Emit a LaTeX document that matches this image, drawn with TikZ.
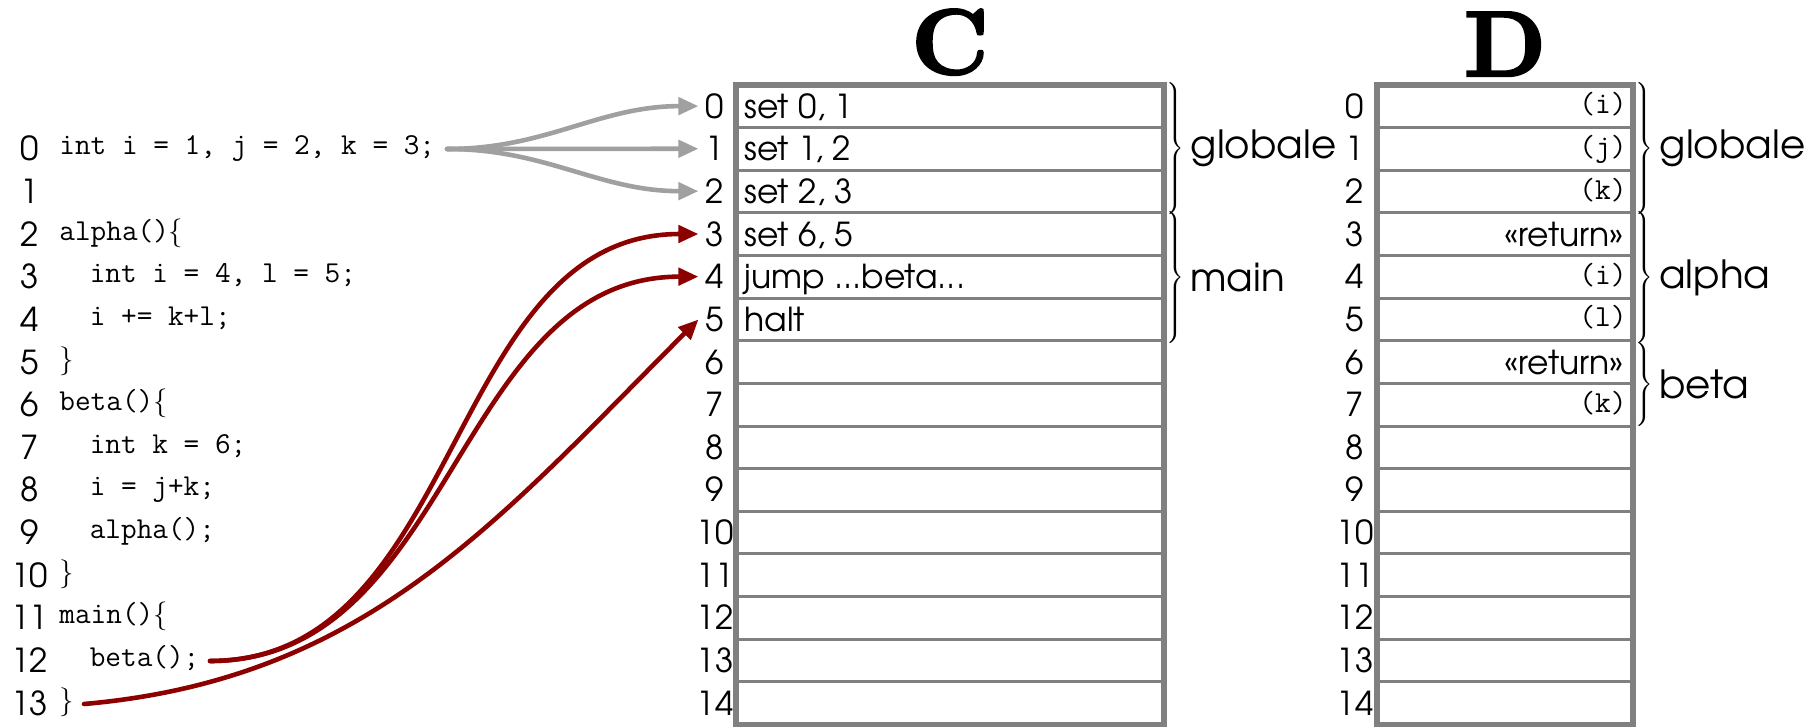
\documentclass[tikz,border=0pt]{standalone}
\usepackage{fontspec}
\usetikzlibrary{arrows.meta,calc}
\IfFontExistsTF{TeX Gyre Adventor}
  {\newfontfamily\gothic{TeX Gyre Adventor}}
  {\newfontfamily\gothic{Poppins}}
\newfontface\titlefont{lmroman10-bold}[Extension=.otf, FakeBold=2.5]
\newcommand\mybrace[1]{{\fontsize{10}{12}\selectfont\delimiterfactor=1000 \delimitershortfall=0pt
  $\left.\vcenter{\hbox{\rule{0pt}{#1}}}\right\}$}}
\definecolor{boxgray}{RGB}{128,128,128}
\definecolor{arrgray}{RGB}{160,160,160}
\definecolor{arrred}{RGB}{140,0,0}
\begin{document}
\begin{tikzpicture}[x=0.5pt,y=0.5pt,
  num/.style={font=\gothic\fontsize{16.5}{18}\selectfont, inner xsep=3.5pt, inner ysep=0pt, anchor=base},
  cell/.style={font=\gothic\fontsize{16.5}{18}\selectfont, inner sep=0pt, anchor=base west},
  dtt/.style={font=\ttfamily\fontsize{15.3}{17}\selectfont, inner sep=0pt, anchor=base east},
  dret/.style={font=\gothic\fontsize{16.5}{18}\selectfont, inner sep=0pt, anchor=base east},
  code/.style={font=\ttfamily\fontsize{15.2}{18}\selectfont, inner sep=0pt, anchor=base west},
  lab/.style={font=\gothic\fontsize{19.4}{22}\selectfont, inner sep=0pt, anchor=west},
  brc/.style={inner sep=0pt, anchor=west},
  title/.style={font=\titlefont\fontsize{46.5}{50}\selectfont, inner sep=0pt, anchor=base},
  outer/.style={draw=boxgray, line width=2.6pt},
  inner/.style={draw=boxgray, line width=1.5pt},
  garrow/.style={draw=arrgray, line width=2.3pt, line cap=round, -{Triangle[length=10pt,width=8.5pt]}},
  rarrow/.style={draw=arrred, line width=2.3pt, line cap=round, -{Triangle[length=10pt,width=8.5pt]}}
]
\useasboundingbox (0,0) rectangle (1816,-728);
\def\rh{42.63}
% ---------- boxes ----------
\foreach \k in {1,...,14}{
  \pgfmathsetmacro\yy{85+\rh*\k}
  \draw[inner] (736,-\yy) -- (1164,-\yy);
  \draw[inner] (1377,-\yy) -- (1633,-\yy);
}
\draw[outer] (736,-85) rectangle (1164,-724.5);
\draw[outer] (1377,-85) rectangle (1633,-724.5);
% ---------- titles ----------
\node[title] (ctitle) at (950,-74) {C};
\node[title] (dtitle) at (1505,-76) {D};
% ---------- row numbers ----------
\foreach \k in {0,...,14}{
  \pgfmathsetmacro\yc{85+\rh*(\k+0.5)}
  \node[num] (cn\k) at (715,{-\yc-12}) {\k};
  \node[num] (dn\k) at (1355,{-\yc-12}) {\k};
}
% ---------- C cells ----------
\foreach \k/\t in {0/{set 0, 1},1/{set 1, 2},2/{set 2, 3},3/{set 6, 5},4/{jump ...beta...},5/{halt}}{
  \pgfmathsetmacro\yc{85+\rh*(\k+0.5)}
  \node[cell] (cc\k) at (744,{-\yc-12}) {\t};
}
% ---------- D cells ----------
\foreach \k/\t in {0/(i),1/(j),2/(k),4/(i),5/(l),7/(k)}{
  \pgfmathsetmacro\yc{85+\rh*(\k+0.5)}
  \node[dtt] (dc\k) at (1627,{-\yc-7.5}) {\t};
}
\foreach \k in {3,6}{
  \pgfmathsetmacro\yc{85+\rh*(\k+0.5)}
  \node[dret] (dc\k) at (1624,{-\yc-12}) {«return»};
}
% ---------- braces & labels ----------
\node[brc] (cb1) at (1164,-148.5) {\mybrace{64.5pt}};
\node[lab] (cl1) at (1190,-148.5) {globale};
\node[brc] (cb2) at (1164,-277.5) {\mybrace{64pt}};
\node[lab] (cl2) at (1190,-277.5) {main};
\node[brc] (db1) at (1633,-148.5) {\mybrace{64.5pt}};
\node[lab] (dl1) at (1659,-148.5) {globale};
\node[brc] (db2) at (1633,-277.5) {\mybrace{64pt}};
\node[lab] (dl2) at (1659,-277.5) {alpha};
\node[brc] (db3) at (1633,-384.5) {\mybrace{42pt}};
\node[lab] (dl3) at (1659,-384.5) {beta};
% ---------- code ----------
\foreach \k in {0,...,13}{
  \pgfmathsetmacro\yc{85+\rh*(\k+1.5)}
  \node[num] (ln\k) at (30,{-\yc-12}) {\k};
}
\def\cy#1{{-(85+\rh*(#1+1.5))-6}}
\node[code] (code0) at (59,\cy{0}) {int i = 1, j = 2, k = 3;};
\node[code] (code2) at (59,\cy{2}) {alpha()$\{$};
\node[code] (code3) at (59,\cy{3}) {\quad int i = 4, l = 5;};
\node[code] (code4) at (59,\cy{4}) {\quad i += k+l;};
\node[code] (code5) at (59,\cy{5}) {$\}$};
\node[code] (code6) at (59,\cy{6}) {beta()$\{$};
\node[code] (code7) at (59,\cy{7}) {\quad int k = 6;};
\node[code] (code8) at (59,\cy{8}) {\quad i = j+k;};
\node[code] (code9) at (59,\cy{9}) {\quad alpha();};
\node[code] (code10) at (59,\cy{10}) {$\}$};
\node[code] (code11) at (59,\cy{11}) {main()$\{$};
\node[code] (code12) at (59,\cy{12}) {\quad beta();};
\node[code] (code13) at (59,\cy{13}) {$\}$};
% ---------- arrows ----------
\coordinate (gs) at (447,-149);
\coordinate (rs1) at (210,-661);
\coordinate (rs2) at (84,-704);
\draw[garrow] (gs) to[out=0,in=180] (cn0.west);
\draw[garrow] (gs) -- (cn1.west);
\draw[garrow] (gs) to[out=0,in=180] (cn2.west);
\draw[rarrow] (rs1) to[out=0,in=180] (cn3.west);
\draw[rarrow] (rs1) to[out=0,in=180] (cn4.west);
\draw[rarrow] (rs2) to[out=5,in=225] (cn5.west);
\end{tikzpicture}
\end{document}
